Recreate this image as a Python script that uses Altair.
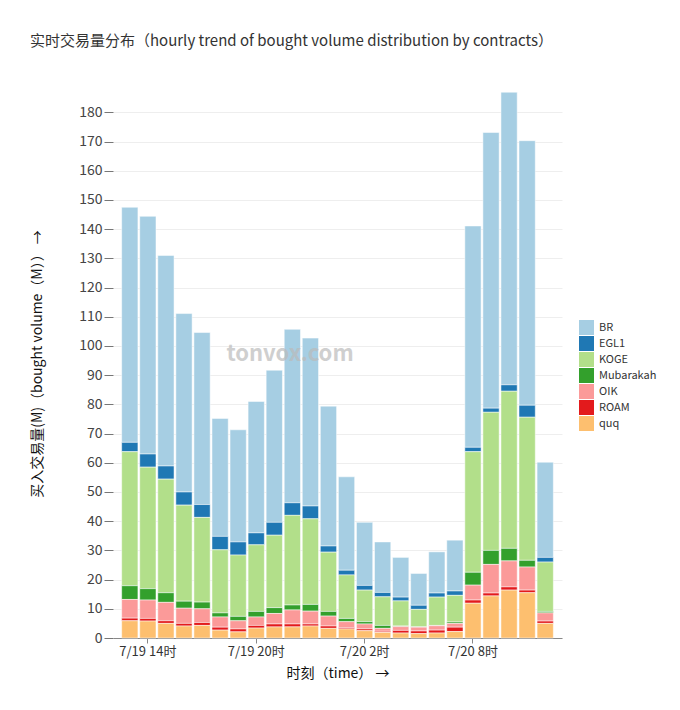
import altair as alt
import pandas as pd

hours = ["7/19 13时", "7/19 14时", "7/19 15时", "7/19 16时", "7/19 17时", "7/19 18时",
         "7/19 19时", "7/19 20时", "7/19 21时", "7/19 22时", "7/19 23时", "7/20 0时",
         "7/20 1时", "7/20 2时", "7/20 3时", "7/20 4时", "7/20 5时", "7/20 6时",
         "7/20 7时", "7/20 8时", "7/20 9时", "7/20 10时", "7/20 11时", "7/20 12时"]
tick_labels = ["7/19 14时", "7/19 20时", "7/20 2时", "7/20 8时"]

series = ["BR", "EGL1", "KOGE", "Mubarakah", "OIK", "ROAM", "quq"]
colors = ["#a6cee3", "#1f78b4", "#b2df8a", "#33a02c", "#fb9a99", "#e31a1c", "#fdbf6f"]

BR = [80.5, 81.4, 72.1, 61.1, 58.9, 40.4, 38.4, 45.0, 52.1, 59.4, 57.5, 47.9,
      32.0, 21.6, 17.3, 13.6, 10.9, 14.1, 17.4, 75.8, 94.4, 100.2, 90.6, 32.6]
EGL1 = [3.2, 4.5, 4.5, 4.5, 4.4, 4.6, 4.5, 4.1, 4.4, 4.3, 4.4, 2.1,
        1.6, 1.6, 1.5, 1.3, 1.4, 1.4, 1.5, 1.5, 1.4, 2.2, 4.1, 1.6]
KOGE = [45.9, 41.6, 38.9, 32.9, 29.0, 21.6, 21.0, 22.8, 24.8, 30.7, 29.3, 20.3,
        14.9, 10.8, 9.8, 8.6, 6.0, 9.7, 9.1, 41.3, 47.3, 53.8, 49.0, 16.9]
Mubarakah = [4.7, 3.9, 3.3, 2.4, 2.3, 1.4, 1.5, 1.9, 2.0, 1.7, 2.3, 1.6,
             1.1, 0.8, 1.0, 0.2, 0.1, 0.1, 0.5, 4.4, 4.8, 4.3, 2.3, 0.5]
OIK = [6.4, 6.3, 6.3, 5.2, 4.7, 3.5, 2.8, 2.9, 3.6, 4.8, 4.4, 3.4,
       2.1, 1.7, 1.0, 1.3, 1.3, 1.5, 1.3, 5.1, 9.8, 8.9, 7.9, 2.8]
ROAM = [0.9, 0.9, 0.9, 0.9, 1.0, 1.0, 1.0, 0.9, 1.0, 1.0, 0.7, 0.8,
        0.4, 0.6, 0.4, 0.9, 0.9, 1.0, 1.5, 1.1, 1.0, 1.1, 0.9, 0.8]
quq = [5.9, 5.8, 5.0, 4.1, 4.3, 2.7, 2.1, 3.4, 3.8, 3.8, 4.1, 3.3,
       3.1, 2.5, 1.9, 1.7, 1.5, 1.7, 2.2, 11.9, 14.4, 16.4, 15.5, 5.0]

values = {"BR": BR, "EGL1": EGL1, "KOGE": KOGE, "Mubarakah": Mubarakah,
          "OIK": OIK, "ROAM": ROAM, "quq": quq}

rows = []
for i, s in enumerate(series):
    for h, v in zip(hours, values[s]):
        rows.append({"hour": h, "contract": s, "volume": v, "rank": len(series) - i})
df = pd.DataFrame(rows)

FONT = "Noto Sans CJK SC"

bars = alt.Chart(df).mark_bar(stroke="white", strokeWidth=0.5).encode(
    x=alt.X("hour:N", sort=hours,
            scale=alt.Scale(paddingInner=0.1, paddingOuter=0.48),
            axis=alt.Axis(values=tick_labels, labelAngle=0, title="时刻（time） →",
                          labelFontSize=13, labelColor="#333", tickSize=5,
                          tickColor="#888", domainColor="#888", labelPadding=2,
                          titleFontSize=14, titleFontWeight="normal", titleColor="#111",
                          titlePadding=8, grid=False)),
    y=alt.Y("volume:Q", stack="zero",
            scale=alt.Scale(domain=[0, 188], nice=False),
            axis=alt.Axis(values=list(range(0, 190, 10)),
                          title="买入交易量(M)（bought volume（M））  →",
                          labelFontSize=14, labelColor="#444", tickSize=9,
                          tickColor="#777", domain=False, labelPadding=2,
                          gridColor="#eeeeee", titleFontSize=14,
                          titleFontWeight="normal", titleColor="#111",
                          titlePadding=34)),
    color=alt.Color("contract:N",
                    scale=alt.Scale(domain=series, range=colors),
                    legend=alt.Legend(title=None, orient="none", legendX=466, legendY=231,
                                      symbolType="square", symbolSize=225,
                                      symbolStrokeWidth=0, labelFontSize=11,
                                      labelColor="#333", rowPadding=1, labelOffset=5)),
    order=alt.Order("rank:Q", sort="ascending"),
)

wm = alt.Chart(pd.DataFrame({"t": ["tonvox.com"]})).mark_text(
    fontSize=22, fontWeight="bold", color="#bbbbbb", opacity=0.7, font=FONT
).encode(text="t:N", x=alt.value(177), y=alt.value(265))

chart = alt.layer(bars, wm).properties(
    width=449, height=549,
    autosize=alt.AutoSizeParams(type="none"),
    padding={"left": 105, "top": 81, "right": 110, "bottom": 64},
    title=alt.TitleParams("实时交易量分布（hourly trend of bought volume distribution by contracts）",
                          anchor="start", frame="group", dx=-83, offset=40, fontSize=15,
                          fontWeight="normal", color="#333", font=FONT),
).configure(font=FONT, background="white").configure_view(stroke=None)

chart.save("out.html", embed_options={"renderer": "svg", "actions": False})
